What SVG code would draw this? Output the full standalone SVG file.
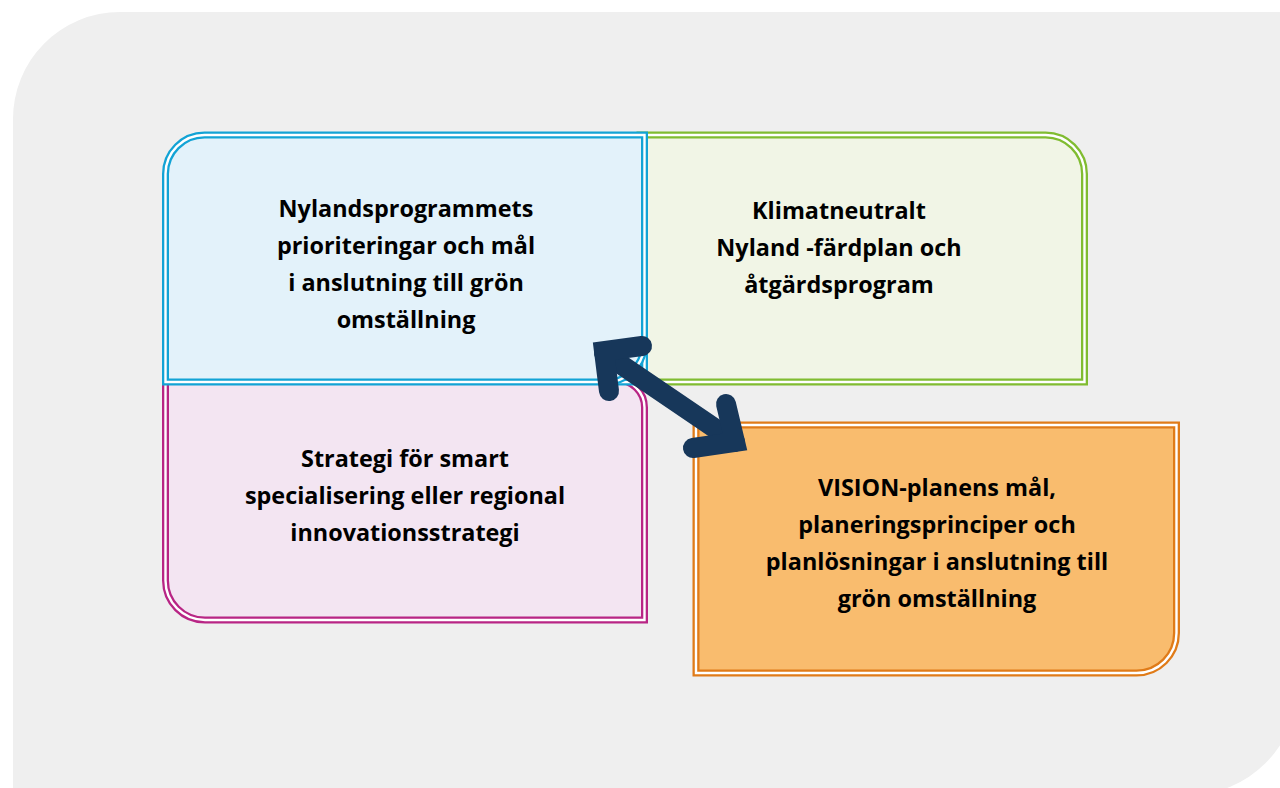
<svg xmlns="http://www.w3.org/2000/svg" width="1280" height="788" viewBox="0 0 1280 788">
<style>
.outer{stroke-width:7}
.gap{fill:none;stroke:#ffffff;stroke-width:2.4}
.lbl{font-family:"Open Sans","Liberation Sans",sans-serif;font-weight:700;font-size:23.4px;fill:#000;text-anchor:middle}
.arr{fill:none;stroke:#17375A;stroke-width:20;stroke-linecap:round;stroke-linejoin:miter;stroke-miterlimit:10}
</style>
<rect width="1280" height="788" fill="#ffffff"/>
<path d="M13,120 A107,107 0 0 1 120,12 H1297 V687 A108,108 0 0 1 1189,795 H13 Z" fill="#EFEFEF"/>
<g id="node-green">
<path class="outer" d="M640,135 H1045 A39,39 0 0 1 1084.5,174 V382 H640 Z" fill="#F1F5E6" stroke="#80BC31"/>
<path class="gap" d="M640,135 H1045 A39,39 0 0 1 1084.5,174 V382 H640 Z"/>
<text class="lbl" x="839" y="219">Klimatneutralt</text>
<text class="lbl" x="839" y="256">Nyland -färdplan och</text>
<text class="lbl" x="839" y="293">åtgärdsprogram</text>
</g>
<g id="node-pink">
<path class="outer" d="M165.5,380 H617 A27.5,27.5 0 0 1 644.5,407.5 V620 H205 A39.5,39.5 0 0 1 165.5,580.5 Z" fill="#F3E5F2" stroke="#B82585"/>
<path class="gap" d="M165.5,380 H617 A27.5,27.5 0 0 1 644.5,407.5 V620 H205 A39.5,39.5 0 0 1 165.5,580.5 Z"/>
<text class="lbl" x="405" y="467">Strategi för smart</text>
<text class="lbl" x="405" y="504">specialisering eller regional</text>
<text class="lbl" x="405" y="541">innovationsstrategi</text>
</g>
<g id="node-blue">
<path class="outer" d="M165.5,382 V174 A39,39 0 0 1 204.5,135 H644.5 V382 Z" fill="#E3F2FA" stroke="#12A3D5"/>
<path class="gap" d="M165.5,382 V174 A39,39 0 0 1 204.5,135 H644.5 V382 Z"/>
<path class="outer" d="M644.5,340 A40,40 0 0 1 612,382" fill="none" stroke="#12A3D5"/>
<path class="gap" d="M644.5,340 A40,40 0 0 1 612,382"/>
<text class="lbl" x="406" y="217">Nylandsprogrammets</text>
<text class="lbl" x="406" y="254">prioriteringar och mål</text>
<text class="lbl" x="406" y="291">i anslutning till grön</text>
<text class="lbl" x="406" y="328">omställning</text>
</g>
<g id="node-orange">
<path class="outer" d="M696,425 H1176.5 V633 A40,40 0 0 1 1136.5,673 H696 Z" fill="#F9BC6E" stroke="#E07B18"/>
<path class="gap" d="M696,425 H1176.5 V633 A40,40 0 0 1 1136.5,673 H696 Z"/>
<text class="lbl" x="937" y="496">VISION-planens mål,</text>
<text class="lbl" x="937" y="533">planeringsprinciper och</text>
<text class="lbl" x="937" y="570">planlösningar i anslutning till</text>
<text class="lbl" x="937" y="607">grön omställning</text>
</g>
<g id="connectors">
<path class="arr" d="M604,353 L735,442"/>
<path class="arr" d="M642,346 L604,351 L609,391"/>
<path class="arr" d="M726,404 L735,442 L693,448"/>
</g>
</svg>
